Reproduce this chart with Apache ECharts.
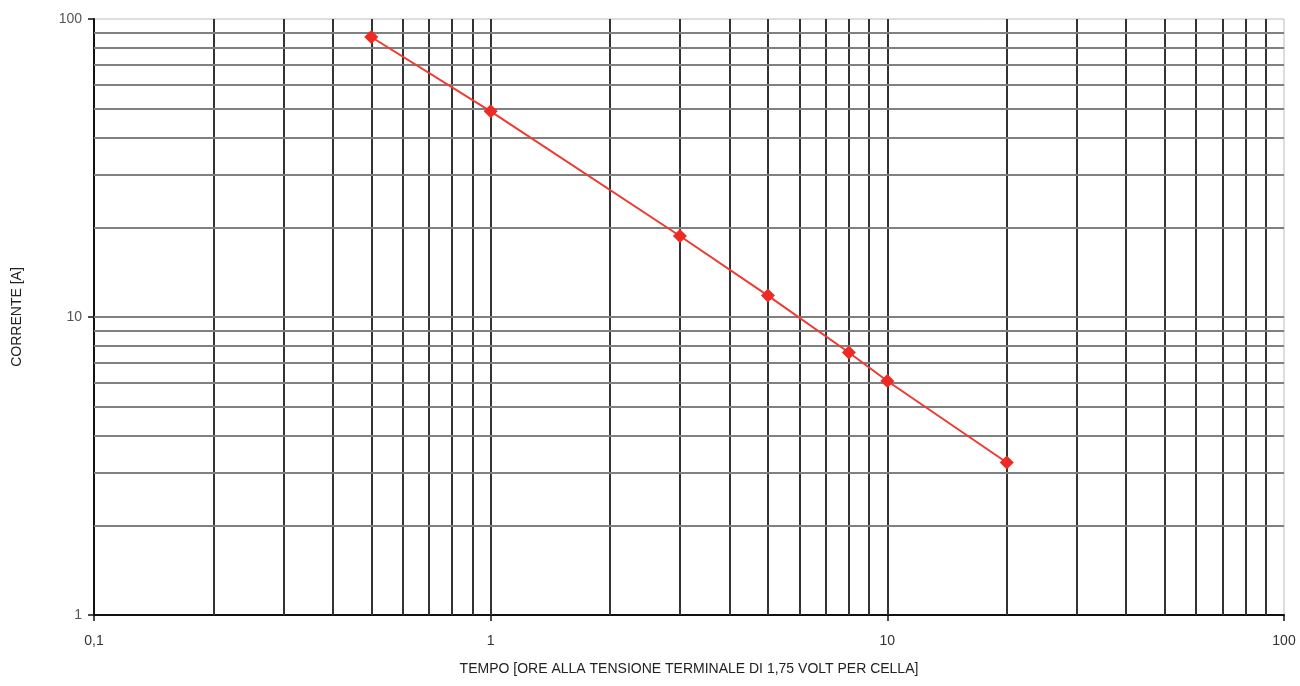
<!DOCTYPE html>
<html>
<head>
<meta charset="utf-8">
<script src="https://cdn.jsdelivr.net/npm/echarts@6/dist/echarts.min.js"></script>
<style>html,body{margin:0;padding:0;background:#fff}#c{width:1300px;height:686px}</style>
</head>
<body>
<div id="c"></div>
<script>
var tempo = [0.5, 1, 3, 5, 8, 10, 20];
var corrente = [87, 49, 18.7, 11.8, 7.6, 6.1, 3.25];
var xGridValues = [0.2,0.3,0.4,0.5,0.6,0.7,0.8,0.9,1,2,3,4,5,6,7,8,9,10,20,30,40,50,60,70,80,90];
var yGridValues = [2,3,4,5,6,7,8,9,10,20,30,40,50,60,70,80,90];
var xName = 'TEMPO [ORE ALLA TENSIONE TERMINALE DI 1,75 VOLT PER CELLA]';
var yName = 'CORRENTE [A]';

var chart = echarts.init(document.getElementById('c'));
var vLines = xGridValues.map(function(v){return {xAxis: v};});
var hLines = yGridValues.map(function(v){return {yAxis: v};});
var fontFam = 'Liberation Sans, Arial, sans-serif';
chart.setOption({
  animation: false,
  grid: {left: 94, right: 16, top: 19, bottom: 71, show: true, borderColor: '#bbb', borderWidth: 1},
  xAxis: {
    type: 'log', logBase: 10, min: 0.1, max: 100,
    name: xName, nameLocation: 'middle', nameGap: 47,
    nameTextStyle: {fontSize: 14, color: '#222', fontFamily: fontFam},
    axisLine: {show: true, lineStyle: {color: '#111', width: 2}},
    axisTick: {show: true, length: 6, lineStyle: {color: '#111', width: 1.5}},
    axisLabel: {fontSize: 14, color: '#333', fontFamily: fontFam, margin: 19,
      formatter: function(v){return String(v).replace('.', ',');}},
    splitLine: {show: false}
  },
  yAxis: {
    type: 'log', logBase: 10, min: 1, max: 100,
    name: yName, nameLocation: 'middle', nameGap: 70, nameRotate: 90,
    nameTextStyle: {fontSize: 14, color: '#222', fontFamily: fontFam},
    axisLine: {show: true, lineStyle: {color: '#111', width: 2}},
    axisTick: {show: true, length: 6, lineStyle: {color: '#111', width: 1.5}},
    axisLabel: {fontSize: 14, color: '#555', fontFamily: fontFam, margin: 12},
    splitLine: {show: false}
  },
  series: [
    {
      type: 'line', data: [], silent: true,
      markLine: {silent: true, symbol: 'none', label: {show: false}, animation: false,
        lineStyle: {color: '#333', width: 2, type: 'solid'}, data: vLines}
    },
    {
      type: 'line', data: [], silent: true,
      markLine: {silent: true, symbol: 'none', label: {show: false}, animation: false,
        lineStyle: {color: '#808080', width: 2, type: 'solid'}, data: hLines}
    },
    {
      type: 'line',
      data: tempo.map(function(t, i){return [t, corrente[i]];}),
      symbol: 'diamond', symbolSize: 14,
      lineStyle: {color: '#ee3a32', width: 2},
      itemStyle: {color: '#ee2a24'},
      z: 5
    }
  ]
});
</script>
</body>
</html>
